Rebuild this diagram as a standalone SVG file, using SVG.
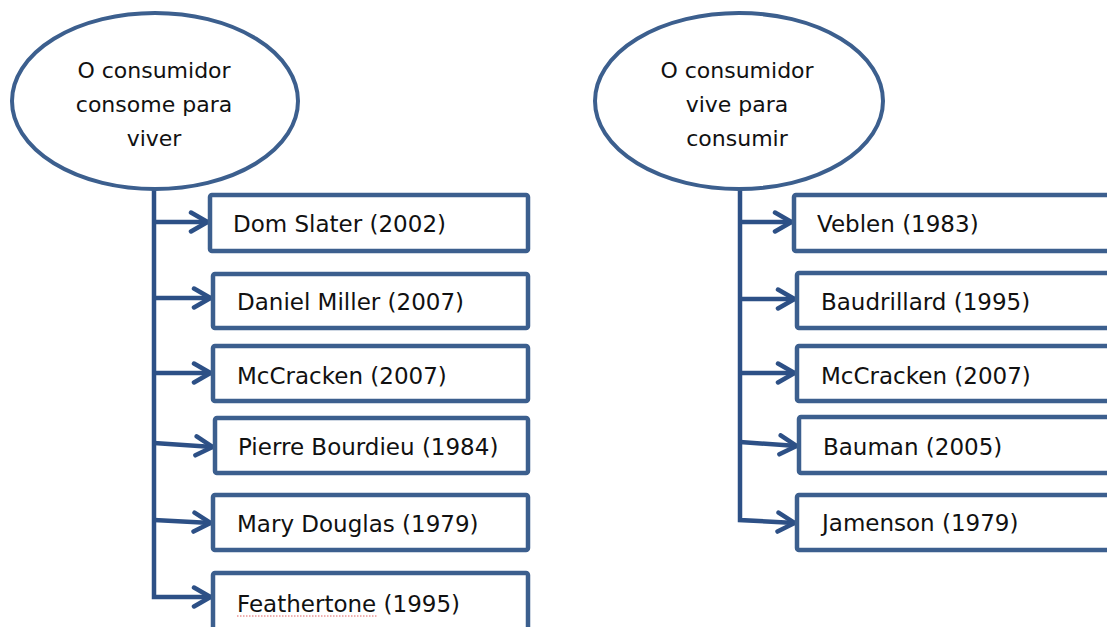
<svg xmlns="http://www.w3.org/2000/svg" width="1107" height="627" viewBox="0 0 1107 627">
  <style>
    .oval { fill: #ffffff; stroke: #3c5f8e; stroke-width: 4; }
    .box { fill: #ffffff; stroke: #3c5f8e; stroke-width: 4.5; }
    .link { fill: none; stroke: #2d5086; stroke-width: 4.5; stroke-linejoin: miter; }
    .label { font-family: "DejaVu Sans", "Liberation Sans", sans-serif; font-size: 23px; fill: #111111; }
    .head { font-family: "DejaVu Sans", "Liberation Sans", sans-serif; font-size: 22px; fill: #111111; text-anchor: middle; }
  </style>
  <defs>
    <marker id="arrow" viewBox="0 0 22 24" refX="20" refY="12" markerWidth="22" markerHeight="24" markerUnits="userSpaceOnUse" orient="auto">
      <path d="M3,2.5 L19.5,12 L3,21.5" fill="none" stroke="#2d5086" stroke-width="4.5" stroke-linecap="round" stroke-linejoin="round"/>
    </marker>
  </defs>
  <rect width="1107" height="627" fill="#ffffff"/>

  <!-- connectors -->
  <g id="connectors" class="link">
    <!-- left trunk -->
    <path d="M154,190 L154,597 L211,597" marker-end="url(#arrow)"/>
    <path d="M154,222 L208,222" marker-end="url(#arrow)"/>
    <path d="M154,298 L211,298" marker-end="url(#arrow)"/>
    <path d="M154,373 L211,373" marker-end="url(#arrow)"/>
    <path d="M154,443 L213,447" marker-end="url(#arrow)"/>
    <path d="M154,520 L211,523" marker-end="url(#arrow)"/>
    <!-- right trunk -->
    <path d="M740,189 L740,520 L795,523" marker-end="url(#arrow)"/>
    <path d="M740,222 L792,222" marker-end="url(#arrow)"/>
    <path d="M740,299 L795,299" marker-end="url(#arrow)"/>
    <path d="M740,373 L795,373" marker-end="url(#arrow)"/>
    <path d="M740,442 L797,446" marker-end="url(#arrow)"/>
  </g>

  <!-- left column -->
  <g id="oval-consome">
    <ellipse class="oval" cx="155" cy="101" rx="143" ry="88"/>
    <text class="head" x="154" y="78">O consumidor</text>
    <text class="head" x="154" y="112">consome para</text>
    <text class="head" x="154" y="146">viver</text>
  </g>
  <g id="box-slater">
    <rect class="box" x="210" y="195" width="318" height="56" rx="2"/>
    <text class="label" x="233" y="232">Dom Slater (2002)</text>
  </g>
  <g id="box-miller">
    <rect class="box" x="213" y="274" width="315" height="54" rx="2"/>
    <text class="label" x="237" y="310">Daniel Miller (2007)</text>
  </g>
  <g id="box-mccracken-l">
    <rect class="box" x="213" y="346" width="315" height="55" rx="2"/>
    <text class="label" x="237" y="384">McCracken (2007)</text>
  </g>
  <g id="box-bourdieu">
    <rect class="box" x="215" y="418" width="313" height="55" rx="2"/>
    <text class="label" x="238" y="455">Pierre Bourdieu (1984)</text>
  </g>
  <g id="box-douglas">
    <rect class="box" x="213" y="495" width="315" height="55" rx="2"/>
    <text class="label" x="237" y="532">Mary Douglas (1979)</text>
  </g>
  <g id="box-feathertone">
    <rect class="box" x="213" y="573" width="315" height="70" rx="2"/>
    <text class="label" x="237" y="612">Feathertone (1995)</text>
    <line x1="237" y1="616" x2="378" y2="616" stroke="#e06060" stroke-width="1" stroke-dasharray="1.5,1.5"/>
  </g>

  <!-- right column -->
  <g id="oval-vive">
    <ellipse class="oval" cx="739" cy="101" rx="144" ry="88"/>
    <text class="head" x="737" y="78">O consumidor</text>
    <text class="head" x="737" y="112">vive para</text>
    <text class="head" x="737" y="146">consumir</text>
  </g>
  <g id="box-veblen">
    <rect class="box" x="794" y="195" width="330" height="56" rx="2"/>
    <text class="label" x="817" y="232">Veblen (1983)</text>
  </g>
  <g id="box-baudrillard">
    <rect class="box" x="797" y="273" width="330" height="55" rx="2"/>
    <text class="label" x="821" y="310">Baudrillard (1995)</text>
  </g>
  <g id="box-mccracken-r">
    <rect class="box" x="797" y="346" width="330" height="55" rx="2"/>
    <text class="label" x="821" y="384">McCracken (2007)</text>
  </g>
  <g id="box-bauman">
    <rect class="box" x="799" y="417" width="330" height="56" rx="2"/>
    <text class="label" x="823" y="455">Bauman (2005)</text>
  </g>
  <g id="box-jamenson">
    <rect class="box" x="797" y="495" width="330" height="55" rx="2"/>
    <text class="label" x="822" y="531">Jamenson (1979)</text>
  </g>
</svg>
